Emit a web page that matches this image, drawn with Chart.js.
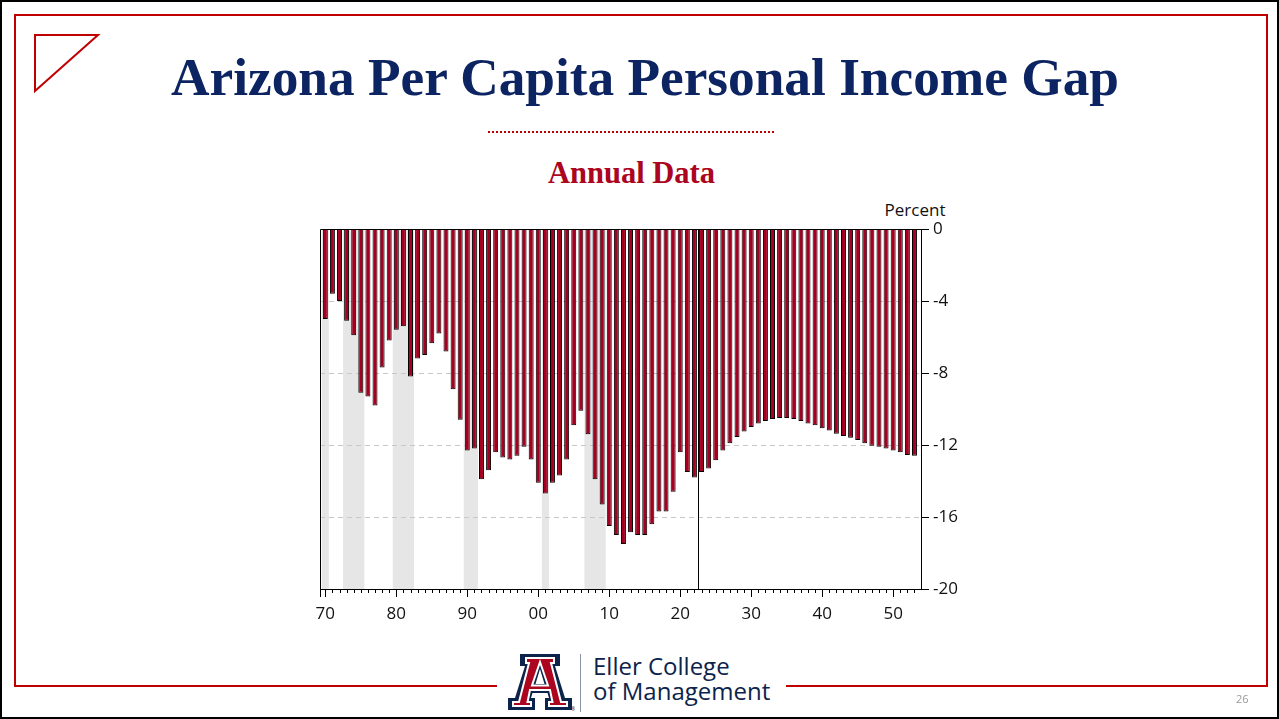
<!DOCTYPE html>
<html>
<head>
<meta charset="utf-8">
<script src="https://cdn.jsdelivr.net/npm/chart.js@4"></script>
<style>
  html, body { margin:0; padding:0; }
  body { width:1279px; height:719px; position:relative; overflow:hidden; background:#fff; }
  .abs { position:absolute; }
</style>
</head>
<body>
<div class="abs" style="left:0;top:0;width:1275px;height:715px;border:2px solid #000;"></div>
<div class="abs" style="left:14px;top:14px;width:1250px;height:669px;border:2px solid #C00000;"></div>
<svg class="abs" style="left:0;top:0" width="120" height="110">
  <polygon points="35,35 98,35 35,91" fill="none" stroke="#C00000" stroke-width="2"/>
</svg>
<div class="abs" style="left:0;width:1290px;top:51px;text-align:center;font:bold 53.3px/54px 'Liberation Serif','Times New Roman',serif;color:#0C2461;white-space:nowrap;">Arizona Per Capita Personal Income Gap</div>
<div class="abs" style="left:488px;top:131px;width:286px;height:0;border-top:2px dotted #C00000;"></div>
<div class="abs" style="left:0;width:1263px;top:158px;text-align:center;font:bold 30.5px/30px 'Liberation Serif','Times New Roman',serif;color:#AB0520;white-space:nowrap;">Annual Data</div>
<div class="abs" style="left:865px;width:100px;top:200px;text-align:center;font:17px/20px 'Open Sans',sans-serif;color:#111;">Percent</div>

<canvas id="c" class="abs" style="left:0;top:0" width="1279" height="719"></canvas>

<div class="abs" style="left:497px;top:645px;width:289px;height:70px;background:#fff;"></div>
<svg class="abs" style="left:507px;top:654px" width="68" height="58" viewBox="0 0 68 58">
  <path fill="#0C234B" fill-rule="evenodd" d="M13 0 H53 V12 H48 L58 44 H65 V56 H38 V44 H42 L40.5 39 H25.5 L24 44 H28 V56 H1 V44 H8 L18 12 H13 Z M28.5 30 H37.5 L33 15 Z"/>
  <path fill="#AB0520" stroke="#fff" stroke-width="2" fill-rule="evenodd" d="M19 4 H47 V9 H44 L54 48 H60 V52 H42 V48 H45.5 L43 36 H23 L20.5 48 H24 V52 H6 V48 H12 L22 9 H19 Z M25 31.5 H41 L33 8 Z"/>
  <text x="64" y="57" font-size="5" fill="#0C234B" font-family="Open Sans">®</text>
</svg>
<div class="abs" style="left:580px;top:654px;width:1px;height:58px;background:#8a94a8;"></div>
<div class="abs" style="left:593px;top:653px;font:24px/25px 'Open Sans',sans-serif;color:#0C234B;white-space:nowrap;">Eller College<br>of Management</div>
<div class="abs" style="left:1236px;top:692px;font:11px/14px 'Open Sans',sans-serif;color:#999;">26</div>

<script>
// ---- data ----
const years = [1970,1971,1972,1973,1974,1975,1976,1977,1978,1979,
               1980,1981,1982,1983,1984,1985,1986,1987,1988,1989,
               1990,1991,1992,1993,1994,1995,1996,1997,1998,1999,
               2000,2001,2002,2003,2004,2005,2006,2007,2008,2009,
               2010,2011,2012,2013,2014,2015,2016,2017,2018,2019,
               2020,2021,2022,2023,2024,2025,2026,2027,2028,2029,
               2030,2031,2032,2033,2034,2035,2036,2037,2038,2039,
               2040,2041,2042,2043,2044,2045,2046,2047,2048,2049,
               2050,2051,2052,2053];
const incomeGap = [-5.0,-3.6,-4.0,-5.1,-5.9,-9.1,-9.3,-9.8,-7.7,-6.2,
                   -5.6,-5.4,-8.2,-7.2,-7.0,-6.35,-5.8,-6.8,-8.9,-10.6,
                   -12.3,-12.2,-13.9,-13.4,-12.4,-12.7,-12.8,-12.6,-12.1,-12.8,
                   -14.1,-14.7,-14.1,-13.7,-12.8,-10.9,-10.1,-11.4,-13.9,-15.3,
                   -16.5,-17.0,-17.5,-16.85,-17.0,-17.0,-16.4,-15.7,-15.7,-14.6,
                   -12.4,-13.5,-13.8,-13.5,-13.3,-12.85,-12.3,-11.9,-11.55,-11.25,
                   -11.0,-10.8,-10.67,-10.55,-10.5,-10.5,-10.55,-10.67,-10.8,-10.9,
                   -11.07,-11.2,-11.37,-11.5,-11.6,-11.72,-11.9,-12.04,-12.1,-12.2,
                   -12.3,-12.4,-12.55,-12.6];
const decadeTicks = [1970,1980,1990,2000,2010,2020,2030,2040,2050];
const decadeLabels = ['70','80','90','00','10','20','30','40','50'];
const yTicks = [0,-4,-8,-12,-16,-20];
const recessionStart = [1970,1973,1980,1990,2001,2007];
const recessionEnd   = [1970,1975,1982,1991,2001,2009];
const forecastDivider = 2022.5;

const decorPlugin = {
  id: 'decor',
  beforeDraw(chart) {
    const {ctx, chartArea: a, scales: {x}} = chart;
    ctx.save();
    ctx.fillStyle = '#E6E6E6';
    for (let i = 0; i < recessionStart.length; i++) {
      let x1 = Math.max(a.left, x.getPixelForValue(recessionStart[i] - 0.5));
      let x2 = Math.min(a.right, x.getPixelForValue(recessionEnd[i] + 0.5));
      ctx.fillRect(x1, a.top, x2 - x1, a.bottom - a.top);
    }
    ctx.restore();
  },
  afterDraw(chart) {
    const {ctx, chartArea: a, scales: {x}} = chart;
    ctx.save();
    ctx.strokeStyle = '#000';
    ctx.lineWidth = 1;
    ctx.beginPath();
    ctx.moveTo(a.left + 0.5, a.bottom);
    ctx.lineTo(a.left + 0.5, a.top + 0.5);
    ctx.lineTo(a.right, a.top + 0.5);
    ctx.stroke();
    const fx = Math.round(x.getPixelForValue(forecastDivider)) + 0.5;
    ctx.beginPath();
    ctx.moveTo(fx, a.top);
    ctx.lineTo(fx, a.bottom);
    ctx.stroke();
    ctx.beginPath();
    for (let i = 0; i < years.length; i++) {
      const px = Math.round(x.getPixelForValue(years[i])) + 0.5;
      const len = decadeTicks.includes(years[i]) ? 8 : 4;
      ctx.moveTo(px, a.bottom);
      ctx.lineTo(px, a.bottom + len);
    }
    ctx.moveTo(a.left + 0.5, a.bottom);
    ctx.lineTo(a.left + 0.5, a.bottom + 8);
    ctx.stroke();
    ctx.restore();
  }
};

const tickFont = {family: "'Open Sans', sans-serif", size: 17};

new Chart(document.getElementById('c'), {
  type: 'bar',
  data: {
    datasets: [{
      data: years.map((y, i) => ({x: y, y: incomeGap[i]})),
      backgroundColor: '#A50021',
      borderColor: '#000',
      borderWidth: 1,
      borderSkipped: 'start',
      barPercentage: 0.7,
      categoryPercentage: 1.0
    }]
  },
  options: {
    responsive: false,
    animation: false,
    events: [],
    layout: {padding: {left: 320, top: 229, right: 318, bottom: 100}},
    plugins: {legend: {display: false}, tooltip: {enabled: false}},
    scales: {
      x: {
        type: 'linear',
        min: 1969.25,
        max: 2053.92,
        offset: false,
        grid: {display: false, drawTicks: false, tickLength: 0},
        border: {display: true, color: '#000', width: 1},
        afterBuildTicks: s => { s.ticks = decadeTicks.map(v => ({value: v})); },
        afterFit: s => { s.height = 30; },
        ticks: {
          autoSkip: false, maxRotation: 0, minRotation: 0,
          padding: 15, color: '#111', font: tickFont,
          callback: v => { const k = decadeTicks.indexOf(v); return k >= 0 ? decadeLabels[k] : ''; }
        }
      },
      y: {
        position: 'right',
        min: -20, max: 0,
        afterBuildTicks: s => { s.ticks = yTicks.map(v => ({value: v})); },
        afterFit: s => { s.width = 40; },
        grid: {
          color: c => (c.tick && (c.tick.value === 0 || c.tick.value === -20)) ? 'rgba(0,0,0,0)' : '#C8C8C8',
          tickColor: '#000', tickLength: 8, tickBorderDash: [], lineWidth: 1
        },
        border: {display: true, color: '#000', width: 1, dash: [5, 4]},
        ticks: {padding: 4, color: '#111', font: tickFont, callback: v => String(v)}
      }
    }
  },
  plugins: [decorPlugin]
});
</script>
</body>
</html>
